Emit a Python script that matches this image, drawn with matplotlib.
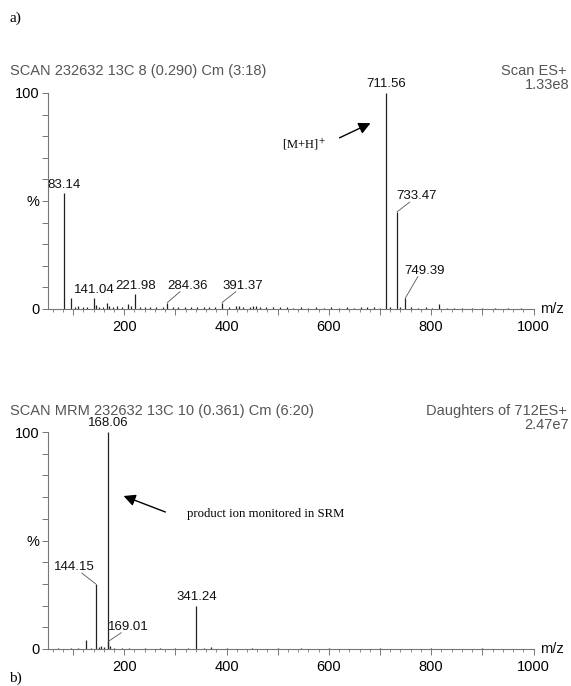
import matplotlib
matplotlib.use("Agg")
import matplotlib.pyplot as plt
from matplotlib.ticker import MultipleLocator, FuncFormatter

plt.rcParams['font.family'] = ['Liberation Sans', 'DejaVu Sans']

W, H = 571, 686

# ---- spectrum a) full scan ----
scan_mz = [83.14, 96.0, 104.0, 110.0, 120.0, 128.0, 141.04, 145.0, 150.0, 158.0, 167.0,
           171.0, 178.0, 185.0, 195.0, 208.0, 213.0, 221.98, 230.0, 240.0, 250.0, 262.0,
           275.0, 284.36, 295.0, 305.0, 318.0, 330.0, 342.0, 355.0, 366.0, 378.0, 391.37,
           405.0, 418.0, 425.0, 433.0, 445.0, 452.0, 458.0, 466.0, 478.0, 490.0, 505.0,
           518.0, 530.0, 545.0, 560.0, 575.0, 590.0, 605.0, 620.0, 635.0, 650.0, 662.0,
           675.0, 688.0, 700.0, 711.56, 720.0, 733.47, 740.0, 749.39, 760.0, 775.0, 790.0,
           802.0, 815.0, 830.0, 845.0, 860.0, 880.0, 900.0, 925.0, 950.0, 975.0]
scan_int = [53.5, 5.0, 1.0, 1.2, 0.8, 1.0, 5.2, 2.0, 1.0, 0.8, 3.0,
            1.5, 1.0, 1.5, 0.8, 2.5, 1.5, 7.0, 1.0, 0.8, 1.0, 0.8,
            1.0, 3.0, 0.8, 1.0, 0.7, 0.8, 0.8, 1.0, 0.7, 0.8, 3.0,
            1.0, 1.5, 1.2, 1.0, 1.0, 1.2, 1.5, 1.0, 0.8, 0.7, 0.8,
            0.7, 0.6, 0.7, 0.6, 0.7, 0.6, 0.7, 0.6, 0.7, 0.6, 0.8,
            0.7, 0.8, 0.6, 100.0, 0.8, 45.0, 0.8, 5.0, 1.0, 0.6, 0.8,
            0.6, 2.5, 0.5, 0.5, 0.4, 0.4, 0.4, 0.3, 0.3, 0.3]

# labelled peaks: (label, m/z, intensity, label x, label y)
scan_labels = [("83.14", 83.14, 53.5, 83.14, 54.5),
               ("141.04", 141.04, 5.2, 141.04, 6.0),
               ("221.98", 221.98, 7.0, 221.98, 7.8),
               ("284.36", 284.36, 3.0, 323.0, 8.0),
               ("391.37", 391.37, 3.0, 432.0, 8.0),
               ("711.56", 711.56, 100.0, 711.56, 101.5),
               ("733.47", 733.47, 45.0, 772.0, 49.5),
               ("749.39", 749.39, 5.0, 788.0, 15.0)]

# ---- spectrum b) daughters of 712 ----
msms_mz = [70.0, 95.0, 110.0, 126.0, 135.0, 144.15, 150.0, 155.0, 160.0, 168.06, 169.01,
           172.0, 180.0, 195.0, 210.0, 240.0, 270.0, 300.0, 325.0, 341.24, 355.0, 370.0,
           400.0, 450.0, 500.0, 545.0, 600.0, 700.0, 800.0, 900.0]
msms_int = [0.3, 0.3, 0.4, 4.0, 0.5, 30.0, 1.0, 1.5, 1.0, 100.0, 3.5,
            1.5, 0.5, 0.4, 0.5, 0.3, 0.3, 0.3, 0.3, 20.0, 0.5, 0.8,
            0.3, 0.3, 0.3, 0.5, 0.3, 0.3, 0.3, 0.3]

msms_labels = [("168.06", 168.06, 100.0, 168.06, 101.5),
               ("144.15", 144.15, 30.0, 103.0, 35.0),
               ("169.01", 169.01, 3.5, 208.0, 7.5),
               ("341.24", 341.24, 20.0, 341.24, 21.0)]


def fx(x):
    return x / W


def fy(y):
    return 1 - y / H


fig = plt.figure(figsize=(W / 100, H / 100), dpi=100)

gray = '#555555'


def draw_panel(ax, mz, inten, labels):
    ax.vlines(mz, 0, inten, color='#222222', lw=0.9, clip_on=False)
    ax.set_xlim(50, 1000)
    ax.set_ylim(0, 100)
    for side in ['top', 'right']:
        ax.spines[side].set_visible(False)
    ax.spines['left'].set_color('#777777')
    ax.spines['bottom'].set_color('#777777')
    ax.xaxis.set_major_locator(MultipleLocator(100))
    ax.xaxis.set_minor_locator(MultipleLocator(20))
    ax.xaxis.set_major_formatter(FuncFormatter(lambda v, p: '%d' % v if v % 200 == 0 else ''))
    ax.yaxis.set_major_locator(MultipleLocator(10))
    ax.yaxis.set_major_formatter(FuncFormatter(
        lambda v, p: {0: '0', 50: '%', 100: '100'}.get(int(round(v)), '')))
    ax.tick_params(axis='both', which='major', length=4, width=0.7, color='#777777',
                   labelsize=10.5, pad=2)
    ax.tick_params(axis='x', which='minor', length=2, width=0.6, color='#777777')
    ax.tick_params(axis='x', pad=4)
    for text, pmz, pint, lx, ly in labels:
        ax.text(lx, ly, text, ha='center', va='bottom', fontsize=9.5, color='#111111')
        if lx != pmz:
            ax.plot([pmz, lx + (-14 if lx > pmz else 14)], [pint, ly], color='#555555',
                    lw=0.6, clip_on=False)
    ax.text(1013, 0, 'm/z', ha='left', va='center', fontsize=10.5, color='#111111')


left = fx(47.5)
width = fx(533.5) - left

ax1 = fig.add_axes([left, fy(309), width, fy(93) - fy(309)])
draw_panel(ax1, scan_mz, scan_int, scan_labels)

ax2 = fig.add_axes([left, fy(649), width, fy(432) - fy(649)])
draw_panel(ax2, msms_mz, msms_int, msms_labels)

# header texts
fig.text(fx(10), fy(71), 'SCAN 232632 13C 8 (0.290) Cm (3:18)', fontsize=10.5,
         color=gray, va='center', ha='left')
fig.text(fx(567), fy(71), 'Scan ES+', fontsize=10.5, color=gray, va='center', ha='right')
fig.text(fx(569), fy(85), '1.33e8', fontsize=10.5, color=gray, va='center', ha='right')

fig.text(fx(10), fy(411), 'SCAN MRM 232632 13C 10 (0.361) Cm (6:20)', fontsize=10.5,
         color=gray, va='center', ha='left')
fig.text(fx(567), fy(411), 'Daughters of 712ES+', fontsize=10.5, color=gray,
         va='center', ha='right')
fig.text(fx(569), fy(425), '2.47e7', fontsize=10.5, color=gray, va='center', ha='right')

serif = ['Liberation Serif', 'DejaVu Serif']
fig.text(fx(9), fy(18), 'a)', fontsize=11, family=serif, va='center', ha='left')
fig.text(fx(9), fy(678), 'b)', fontsize=11, family=serif, va='center', ha='left')

# annotations with arrows
fig.text(fx(282), fy(144), '[M+H]$^+$', fontsize=9, family=serif, va='center', ha='left',
         math_fontfamily='stix')
fig.patches.append(matplotlib.patches.FancyArrowPatch(
    (fx(337), fy(139)), (fx(373), fy(122)), transform=fig.transFigure,
    arrowstyle='-|>,head_length=7,head_width=3.5', color='black', lw=1.0))

fig.text(fx(187), fy(514), 'product ion monitored in SRM', fontsize=9.2, family=serif,
         va='center', ha='left')
fig.patches.append(matplotlib.patches.FancyArrowPatch(
    (fx(168), fy(513)), (fx(121), fy(495)), transform=fig.transFigure,
    arrowstyle='-|>,head_length=7,head_width=3.5', color='black', lw=1.0))

fig.savefig('out.png', dpi=100)
